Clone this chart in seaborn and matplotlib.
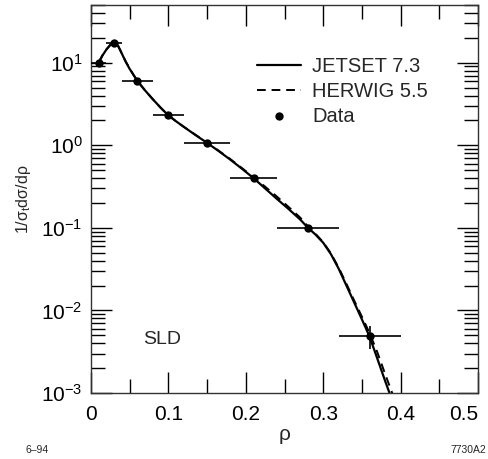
import numpy as np
import pandas as pd
import matplotlib
matplotlib.use("Agg")
import matplotlib.pyplot as plt
import seaborn as sns
from matplotlib.ticker import LogLocator, MultipleLocator, NullFormatter, FixedLocator

# ---- data ----
rho_data = [0.01, 0.03, 0.06, 0.10, 0.15, 0.21, 0.28, 0.36]
val_data = [10.0, 17.5, 6.0, 2.3, 1.07, 0.40, 0.101, 0.0049]
xerr_data = [0.01, 0.01, 0.02, 0.02, 0.03, 0.03, 0.04, 0.04]
yerr_data = [0.3, 0.5, 0.15, 0.06, 0.03, 0.012, 0.005, 0.0015]

rho_jetset = [0.010, 0.015, 0.020, 0.025, 0.030, 0.035, 0.040, 0.045, 0.050, 0.055,
              0.060, 0.070, 0.080, 0.090, 0.100, 0.110, 0.120, 0.135, 0.150, 0.165,
              0.180, 0.195, 0.210, 0.225, 0.240, 0.255, 0.270, 0.280, 0.290, 0.300,
              0.310, 0.320, 0.330, 0.340, 0.350, 0.360, 0.370, 0.380, 0.386]
val_jetset = [10.0, 12.3, 14.5, 16.5, 17.5, 16.0, 12.8, 10.2, 8.4, 7.1,
              6.0, 4.6, 3.6, 2.85, 2.3, 1.95, 1.67, 1.33, 1.07, 0.85,
              0.67, 0.52, 0.40, 0.30, 0.225, 0.17, 0.127, 0.101, 0.083, 0.066,
              0.048, 0.032, 0.020, 0.0125, 0.0078, 0.0048, 0.0026, 0.0014, 0.00098]

rho_herwig = [0.010, 0.015, 0.020, 0.025, 0.030, 0.035, 0.040, 0.045, 0.050, 0.055,
              0.060, 0.070, 0.080, 0.090, 0.100, 0.110, 0.120, 0.135, 0.150, 0.165,
              0.180, 0.195, 0.210, 0.225, 0.240, 0.255, 0.270, 0.280, 0.290, 0.300,
              0.310, 0.320, 0.330, 0.340, 0.350, 0.360, 0.370, 0.380, 0.390]
val_herwig = [10.2, 12.4, 14.5, 16.4, 17.4, 16.0, 12.9, 10.3, 8.5, 7.1,
              6.0, 4.6, 3.6, 2.85, 2.3, 1.95, 1.67, 1.34, 1.08, 0.86,
              0.68, 0.53, 0.41, 0.315, 0.24, 0.18, 0.134, 0.105, 0.085, 0.067,
              0.049, 0.033, 0.021, 0.0132, 0.0084, 0.0053, 0.0031, 0.0017, 0.00095]

x_ticks = [0, 0.1, 0.2, 0.3, 0.4, 0.5]
x_tick_labels = ["0", "0.1", "0.2", "0.3", "0.4", "0.5"]
y_ticks = [1e-3, 1e-2, 1e-1, 1e0, 1e1]
y_tick_labels = [r"$10^{-3}$", r"$10^{-2}$", r"$10^{-1}$", r"$10^{0}$", r"$10^{1}$"]

# ---- style ----
sns.set_style("ticks")
plt.rcParams["font.family"] = ["Liberation Sans", "DejaVu Sans"]
plt.rcParams["mathtext.fontset"] = "custom"
plt.rcParams["mathtext.rm"] = "Liberation Sans"
plt.rcParams["mathtext.it"] = "Liberation Sans:italic"
plt.rcParams["mathtext.default"] = "regular"

fig = plt.figure(figsize=(4.88, 4.59), dpi=100)
ax = fig.add_axes([91 / 488, 1 - 393 / 459, (478 - 91) / 488, (393 - 5) / 459])

df_j = pd.DataFrame({"rho": rho_jetset, "val": val_jetset})
df_h = pd.DataFrame({"rho": rho_herwig, "val": val_herwig})

sns.lineplot(data=df_j, x="rho", y="val", ax=ax, color="black", lw=1.6,
             label="JETSET 7.3", sort=False)
sns.lineplot(data=df_h, x="rho", y="val", ax=ax, color="black", lw=1.4,
             dashes=False, label="HERWIG 5.5", sort=False)
ax.lines[-1].set_dashes([4.5, 3])

ax.errorbar(rho_data, val_data, xerr=xerr_data, yerr=yerr_data, fmt="none",
            ecolor="black", elinewidth=1.2, capsize=0, zorder=4)
sns.scatterplot(x=rho_data, y=val_data, ax=ax, color="black", s=36,
                edgecolor="black", linewidth=0, label="Data", zorder=5)

ax.set_yscale("log")
ax.set_xlim(0, 0.5)
ax.set_ylim(1e-3, 50)

ax.xaxis.set_major_locator(FixedLocator(x_ticks))
ax.set_xticklabels(x_tick_labels)
ax.xaxis.set_minor_locator(MultipleLocator(0.05))
ax.yaxis.set_major_locator(FixedLocator(y_ticks))
ax.set_yticklabels(y_tick_labels)
ax.yaxis.set_minor_locator(LogLocator(base=10, subs=np.arange(2, 10)))
ax.yaxis.set_minor_formatter(NullFormatter())

ax.tick_params(which="both", direction="in", top=True, right=True, colors="black",
               labelsize=15, width=1.0)
ax.tick_params(which="major", length=15)
ax.tick_params(axis="y", which="major", pad=6)
ax.tick_params(axis="x", which="major", pad=9)
ax.tick_params(which="minor", length=10)
ax.get_xticklabels()[-1].set_horizontalalignment("right")
ax.get_xticklabels()[-1].set_x(0.5)
for s in ax.spines.values():
    s.set_linewidth(1.0)
    s.set_color("#333333")

ax.set_xlabel("ρ", fontsize=15, labelpad=0)
ax.set_ylabel(r"1/σ$_{\rm t}$dσ/dρ", fontsize=11.5, labelpad=6)

ax.text(0.067, 0.0044, "SLD", fontsize=14, va="center", ha="left")

leg = ax.legend(loc="upper left", bbox_to_anchor=(0.429, 0.867), frameon=False,
                fontsize=14.5, handlelength=2.2, handletextpad=0.55,
                labelspacing=0.3, borderaxespad=0, borderpad=0)

fig.text(25 / 488, 1 - 450 / 459, "6–94", fontsize=7.5, va="center", ha="left")
fig.text(486 / 488, 1 - 450 / 459, "7730A2", fontsize=7.5, va="center", ha="right")

fig.savefig("out.png", dpi=100)
